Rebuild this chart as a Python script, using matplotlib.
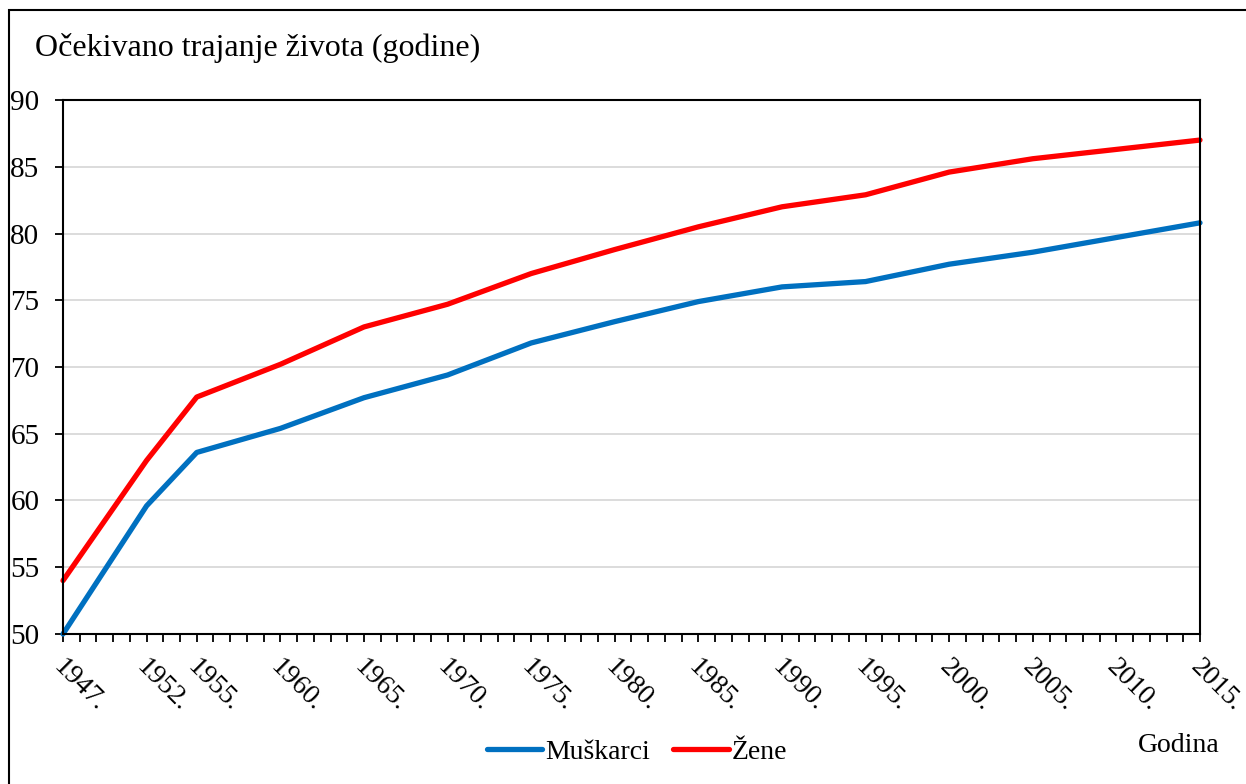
import matplotlib.pyplot as plt
from matplotlib.patches import Rectangle
from matplotlib.transforms import ScaledTranslation
import numpy as np

plt.rcParams['font.family'] = ['Liberation Serif', 'DejaVu Serif']

years = [1947, 1952, 1955, 1960, 1965, 1970, 1975, 1980, 1985, 1990,
         1995, 2000, 2005, 2010, 2015]
muskarci = [50.0, 59.6, 63.6, 65.4, 67.7, 69.4, 71.8, 73.4, 74.9, 76.0,
            76.4, 77.7, 78.6, 79.7, 80.8]
zene = [54.0, 63.0, 67.75, 70.2, 73.0, 74.7, 77.0, 78.8, 80.5, 82.0,
        82.9, 84.6, 85.6, 86.3, 87.0]
tick_labels = [str(y) + '.' for y in years]

W, H = 1246, 784
fig = plt.figure(figsize=(W / 100, H / 100), dpi=100)
ax = fig.add_axes([63 / W, 1 - 634 / H, (1200 - 63) / W, (634 - 100) / H])

# outer frame of the chart area
fig.patches.append(Rectangle((9 / W, -0.1), 1.2, 1 - 10 / H + 0.1,
                             transform=fig.transFigure, fill=False,
                             edgecolor='black', linewidth=1.5))

ax.plot(years, muskarci, color='#0070C0', lw=3.8, label='Muškarci',
        solid_capstyle='round', solid_joinstyle='round', clip_on=False)
ax.plot(years, zene, color='#FF0000', lw=3.8, label='Žene',
        solid_capstyle='round', solid_joinstyle='round', clip_on=False)

ax.set_xlim(1947, 2015)
ax.set_ylim(50, 90)
ax.set_yticks(np.arange(50, 91, 5))
ax.yaxis.grid(True, color='#d9d9d9', lw=1.3)
ax.set_axisbelow(True)

ax.set_xticks(np.arange(1947, 2016, 1), minor=True)
ax.set_xticks(years)
ax.set_xticklabels(tick_labels, rotation=-45, ha='left', va='center',
                   rotation_mode='anchor')
ax.tick_params(axis='x', which='both', direction='out', length=6, width=1.3,
               labelsize=20, pad=15)
ax.tick_params(axis='y', direction='out', length=6, width=1.3, labelsize=21,
               pad=11)
# nudge year labels a little to the left
shift = ScaledTranslation(-6 / 100, 0, fig.dpi_scale_trans)
for lbl in ax.get_xticklabels():
    lbl.set_transform(lbl.get_transform() + shift)
for s in ax.spines.values():
    s.set_linewidth(1.5)

fig.text(35 / W, 1 - 48 / H, 'Očekivano trajanje života (godine)',
         fontsize=23, ha='left', va='center')
fig.text(1220 / W, 1 - 745 / H, 'Godina', fontsize=20, ha='right', va='center')

fig.legend(loc='center', bbox_to_anchor=(637 / W, 1 - 752 / H), ncol=2,
           frameon=False, fontsize=20, handlelength=2.0, columnspacing=0.85,
           handletextpad=0.1)

fig.savefig('out.png', dpi=100)
